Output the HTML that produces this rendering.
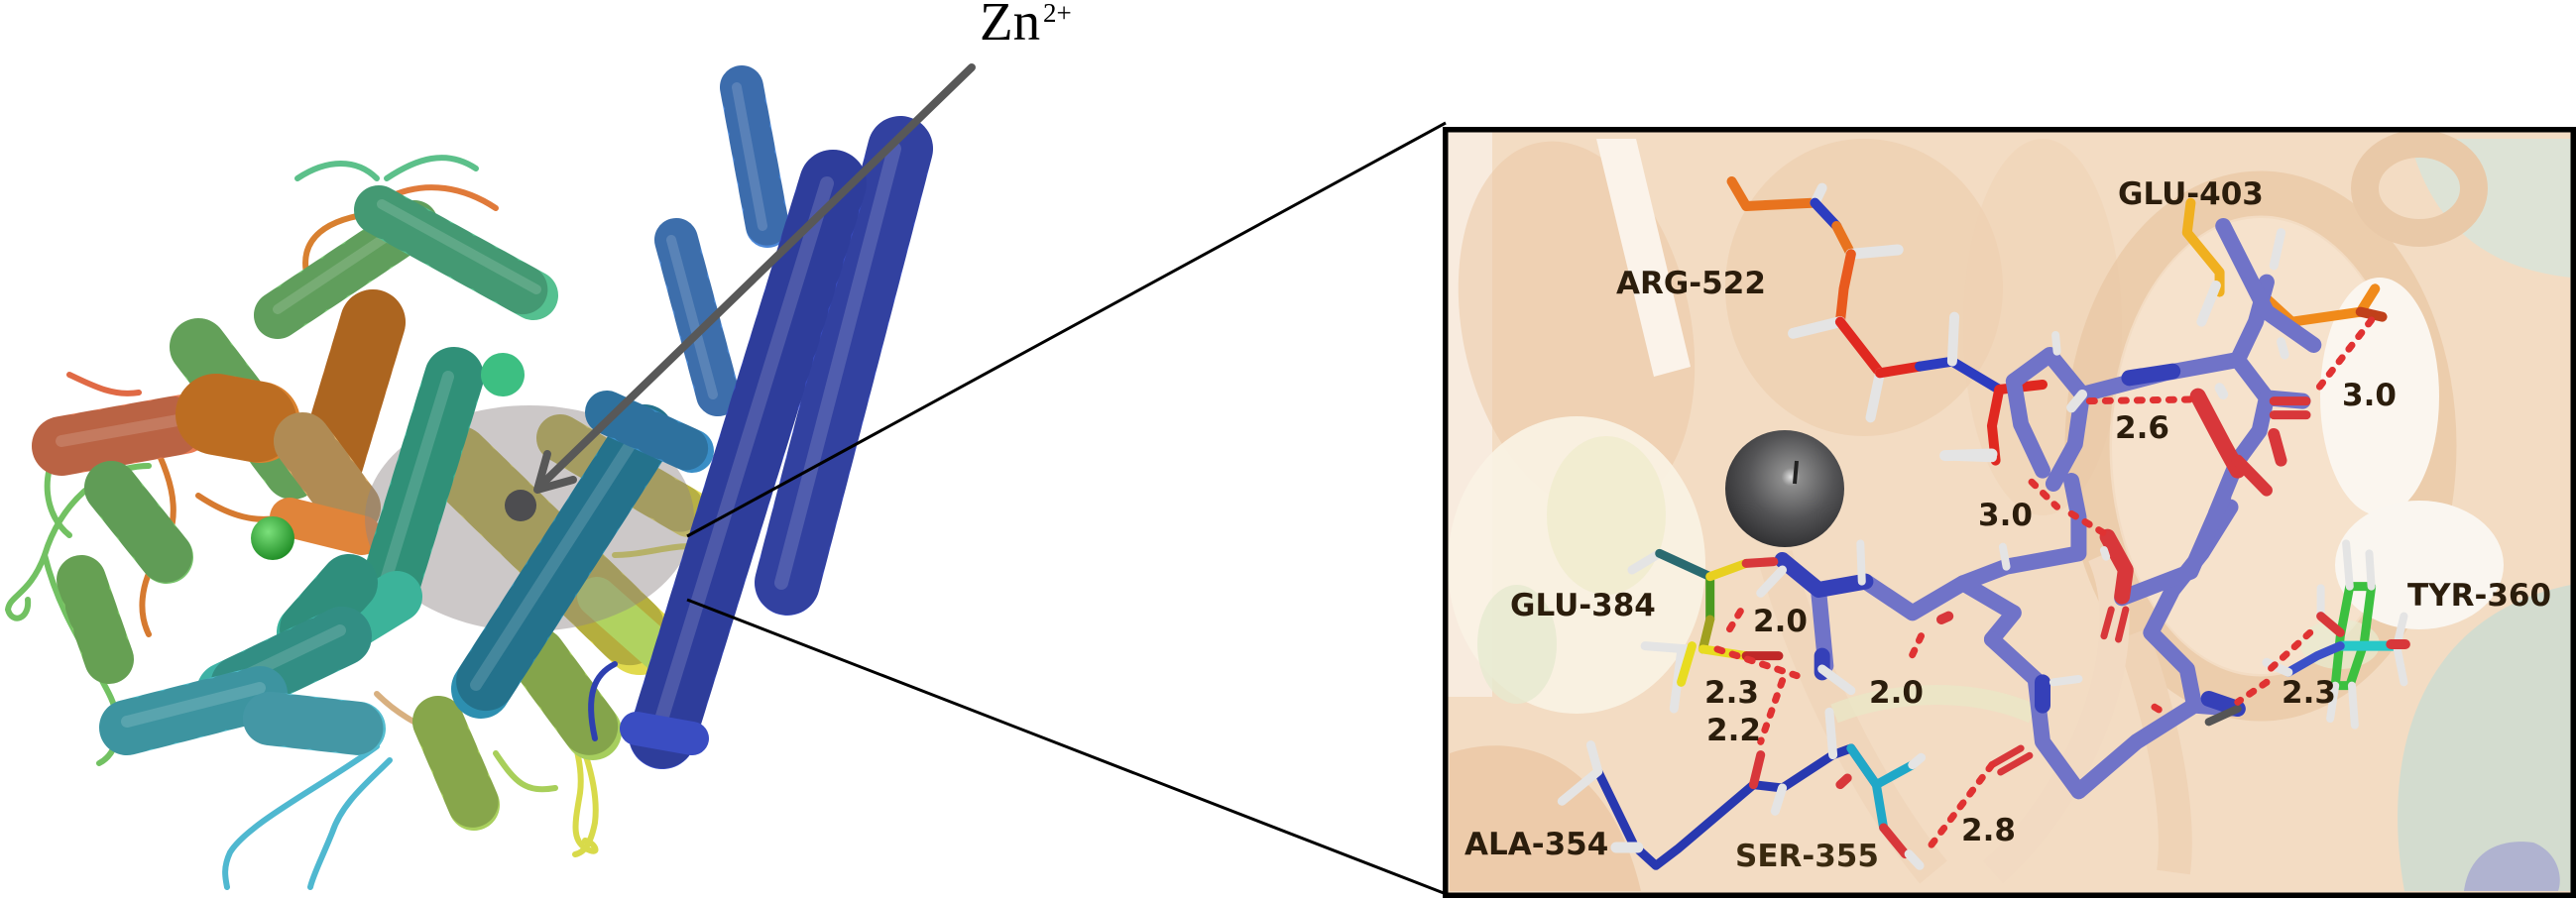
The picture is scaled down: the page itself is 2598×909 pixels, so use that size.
<!DOCTYPE html>
<html><head><meta charset="utf-8"><style>
html,body{margin:0;padding:0;background:#fff;width:2598px;height:909px;overflow:hidden;}
svg{display:block;}
.lp{fill:none;stroke-linecap:round;stroke-linejoin:round;}
.hx{fill:none;stroke-linecap:round;}
.hd{fill:none;stroke:#000;stroke-opacity:.2;stroke-dasharray:10 16;}
.hl{fill:none;stroke:#fff;stroke-opacity:.15;}
.st{fill:none;stroke-linecap:round;stroke-linejoin:round;}
.lb{font-family:"DejaVu Sans","Liberation Sans",sans-serif;font-weight:bold;font-size:31px;fill:#2b1d0c;}
</style></head><body>
<svg width="2598" height="909" viewBox="0 0 2598 909" xmlns="http://www.w3.org/2000/svg" overflow="hidden">
<defs>
<clipPath id="bx"><rect x="1460" y="133" width="1133" height="768"/></clipPath>
<clipPath id="pg"><rect x="0" y="0" width="2598" height="909"/></clipPath>
<radialGradient id="zn" cx="0.55" cy="0.4" r="0.65"><stop offset="0" stop-color="#e0e0e0"/><stop offset="0.12" stop-color="#8c8c8c"/><stop offset="0.55" stop-color="#545456"/><stop offset="1" stop-color="#2c2c2e"/></radialGradient>
<radialGradient id="gs" cx="0.4" cy="0.35" r="0.7"><stop offset="0" stop-color="#7be07b"/><stop offset="1" stop-color="#1c8a22"/></radialGradient>
</defs>
<g clip-path="url(#pg)">
<!-- ===== LEFT PROTEIN ===== -->
<g class="lp" stroke-width="6">
<path d="M150,470 C100,470 60,510 45,560 C30,600 10,600 8,615 C12,630 30,625 28,605" stroke="#72c162"/>
<path d="M45,560 C60,620 90,660 110,700 C125,730 120,760 100,770" stroke="#72c162"/>
<path d="M60,450 C40,480 45,520 70,540" stroke="#72c162"/>
<path d="M140,420 C170,470 190,520 160,560 C140,590 140,620 150,640" stroke="#d67a30"/>
<path d="M200,500 C230,520 260,530 290,520" stroke="#d67a30"/>
<path d="M310,280 C300,240 330,220 380,215 C420,212 440,230 430,260" stroke="#d88030"/>
<path d="M70,378 C95,390 115,400 140,396" stroke="#e06a45"/>
<path d="M380,753 C330,790 250,830 232,860 C225,875 227,885 229,895" stroke="#4fb8d0"/>
<path d="M393,767 C370,790 345,810 335,840 C325,865 316,882 313,895" stroke="#4fb8d0"/>
<path d="M545,670 C570,720 590,760 585,800 C580,830 575,850 595,858 C605,862 600,850 590,848" stroke="#d8da4a"/>
<path d="M560,690 C585,740 605,790 600,830 C596,850 590,860 580,862" stroke="#d8da4a"/>
<path d="M620,560 C660,560 700,540 720,560" stroke="#d8d650"/>
<path d="M300,180 C330,160 360,160 380,180" stroke="#5cc08a"/>
<path d="M390,180 C420,160 450,150 480,170" stroke="#5cc08a"/>
<path d="M390,200 C430,180 470,190 500,210" stroke="#e07a3a"/>
<path d="M500,760 C520,790 530,800 560,795" stroke="#a8cf5a"/>
<path d="M380,700 C400,720 420,730 440,740" stroke="#d8b080"/>
</g>

<g class="hx">
<path d="M62,450 L185,428" stroke="#e97c55" stroke-width="60"/><path class="hd" d="M62,450 L185,428" stroke-width="60"/><path class="hl" d="M62,445 L185,423" stroke-width="12"/>
<path d="M200,350 L295,475" stroke="#7cc870" stroke-width="58"/><path class="hd" d="M200,350 L295,475" stroke-width="58"/>
<path d="M280,318 L418,226" stroke="#78c674" stroke-width="48"/><path class="hd" d="M280,318 L418,226" stroke-width="48"/><path class="hl" d="M280,312 L418,220" stroke-width="10"/>
<path d="M218,418 L262,426" stroke="#d9822f" stroke-width="82"/><path d="M218,418 L262,426" stroke="#7a4008" stroke-opacity=".3" stroke-width="82" stroke-dasharray="7 10" fill="none"/>
<path d="M376,325 L334,465" stroke="#c9772c" stroke-width="66"/><path d="M376,325 L334,465" stroke="#6a3a08" stroke-opacity=".3" stroke-width="66" stroke-dasharray="9 14" fill="none"/>
<path d="M305,445 L355,512" stroke="#dcae6a" stroke-width="58"/><path class="hd" d="M305,445 L355,512" stroke-width="58"/>
<path d="M292,522 L365,540" stroke="#e0843a" stroke-width="40"/>
<path d="M112,492 L168,562" stroke="#78c46c" stroke-width="54"/><path class="hd" d="M112,492 L168,562" stroke-width="54"/>
<path d="M82,585 L110,665" stroke="#80c868" stroke-width="50"/><path class="hd" d="M82,585 L110,665" stroke-width="50"/>
<path d="M382,212 L538,298" stroke="#55c090" stroke-width="50"/><path class="hd" d="M382,212 L538,298" stroke-width="50"/><path class="hl" d="M385,206 L541,292" stroke-width="10"/>
<path d="M460,465 L645,645" stroke="#e1da4e" stroke-width="72"/><path class="hd" d="M460,465 L645,645" stroke-width="72"/>
<path d="M565,442 L695,518" stroke="#e5dd55" stroke-width="48"/><path class="hd" d="M565,442 L695,518" stroke-width="48"/>
<path d="M442,728 L478,812" stroke="#a9d05e" stroke-width="52"/><path class="hd" d="M442,728 L478,812" stroke-width="52"/>
<path d="M542,662 L598,738" stroke="#a6ce5e" stroke-width="58"/><path class="hd" d="M542,662 L598,738" stroke-width="58"/>
<path d="M602,602 L688,678" stroke="#b0d260" stroke-width="40"/>
</g>

<!-- translucent sphere -->
<ellipse cx="534" cy="523" rx="166" ry="114" fill="#8f8686" fill-opacity=".45"/>

<g class="hx">
<path d="M458,380 L392,595" stroke="#3db597" stroke-width="60"/><path class="hd" d="M458,380 L392,595" stroke-width="60"/><path class="hl" d="M452,380 L386,595" stroke-width="12"/>
<path d="M400,602 L325,648" stroke="#3cb39a" stroke-width="52"/>
<path d="M352,588 L308,638" stroke="#3bb29c" stroke-width="58"/><path class="hd" d="M352,588 L308,638" stroke-width="58"/>
<path d="M345,642 L228,698" stroke="#3fb2a6" stroke-width="60"/><path class="hd" d="M345,642 L228,698" stroke-width="60"/><path class="hl" d="M343,636 L226,692" stroke-width="12"/>
<path d="M128,734 L262,700" stroke="#4dbac8" stroke-width="56"/><path class="hd" d="M128,734 L262,700" stroke-width="56"/><path class="hl" d="M128,728 L262,694" stroke-width="12"/>
<path d="M272,725 L362,735" stroke="#55bdcf" stroke-width="54"/><path class="hd" d="M272,725 L362,735" stroke-width="54"/>
<path d="M650,438 L485,695" stroke="#2d8fb0" stroke-width="60"/><path class="hd" d="M650,438 L485,695" stroke-width="60"/><path class="hl" d="M645,434 L480,691" stroke-width="12"/>
<path d="M612,416 L698,455" stroke="#3a8ec6" stroke-width="44"/><path class="hd" d="M612,416 L698,455" stroke-width="44"/>
<path d="M748,88 L774,228" stroke="#4c88d8" stroke-width="44"/><path class="hd" d="M748,88 L774,228" stroke-width="44"/><path class="hl" d="M743,88 L769,228" stroke-width="10"/>
<path d="M682,242 L724,398" stroke="#4d8ad6" stroke-width="44"/><path class="hd" d="M682,242 L724,398" stroke-width="44"/><path class="hl" d="M677,242 L719,398" stroke-width="10"/>
<path d="M908,150 L794,588" stroke="#3f52c8" stroke-width="66"/><path class="hd" d="M908,150 L794,588" stroke-width="66"/><path class="hl" d="M902,150 L788,588" stroke-width="14"/>
<path d="M840,185 L668,742" stroke="#3a4dc2" stroke-width="68"/><path class="hd" d="M840,185 L668,742" stroke-width="68"/><path class="hl" d="M834,185 L662,742" stroke-width="14"/>
<path d="M642,735 L698,745" stroke="#3a4dc2" stroke-width="34"/>
</g>
<path d="M600,745 C590,700 600,680 620,670" class="lp" stroke="#2e40b0" stroke-width="6"/>

<!-- spheres / arrow -->
<circle cx="507" cy="378" r="22" fill="#3dbf82"/>
<circle cx="275" cy="543" r="22" fill="url(#gs)"/>
<line x1="980" y1="68" x2="545" y2="490" stroke="#585858" stroke-width="8" stroke-linecap="round"/>
<polyline points="552,458 542,494 578,484" fill="none" stroke="#585858" stroke-width="8" stroke-linecap="round" stroke-linejoin="round"/>
<circle cx="525" cy="510" r="16" fill="#4d4d50"/>

<!-- Zn label -->
<text x="988" y="40" font-family="'Liberation Serif',serif" font-size="55" fill="#000">Zn</text>
<text x="1052" y="22" font-family="'Liberation Serif',serif" font-size="27" fill="#000">2+</text>

<!-- connector lines -->
<line x1="1458" y1="124" x2="693" y2="541" stroke="#000" stroke-width="3"/>
<line x1="1456" y1="901" x2="693" y2="605" stroke="#000" stroke-width="3"/>

<!-- ===== ZOOM BOX ===== -->
<g clip-path="url(#bx)">
<rect x="1460" y="133" width="1133" height="768" fill="#f3dcc3"/>
<rect x="1460" y="133" width="45" height="570" fill="#f8ebde"/>
<ellipse cx="1590" cy="330" rx="115" ry="190" fill="#ebc8a6" opacity=".55" transform="rotate(-12 1590 330)"/>
<polygon points="1610,140 1650,140 1705,370 1668,380" fill="#fbf3ea"/>
<ellipse cx="1880" cy="290" rx="140" ry="150" fill="#ebc9a7" opacity=".5"/>
<ellipse cx="2060" cy="330" rx="80" ry="190" fill="#f0d2b4" opacity=".5"/>
<ellipse cx="2280" cy="450" rx="150" ry="230" fill="#f6e4d0" opacity=".7"/>
<ellipse cx="2280" cy="450" rx="175" ry="255" fill="none" stroke="#e8c6a3" stroke-width="45" opacity=".7"/>
<path d="M2430,140 C2450,220 2500,270 2593,280 L2593,140 Z" fill="#dde3d6"/>
<ellipse cx="2440" cy="190" rx="55" ry="45" fill="none" stroke="#e9c9a8" stroke-width="28"/>
<ellipse cx="1590" cy="570" rx="130" ry="150" fill="#faf3e4" opacity=".9"/>
<ellipse cx="1620" cy="520" rx="60" ry="80" fill="#efebca" opacity=".7"/>
<ellipse cx="1530" cy="650" rx="40" ry="60" fill="#e6ead0" opacity=".8"/>
<path d="M1462,760 C1520,740 1620,750 1655,899 L1462,899 Z" fill="#ebc8a6" opacity=".85"/>
<path d="M1790,560 C1830,700 1900,820 1950,880" fill="none" stroke="#f0d6bb" stroke-width="36"/>
<path d="M2150,640 C2180,720 2200,820 2192,880" fill="none" stroke="#efd3b6" stroke-width="34"/>
<path d="M2010,880 C2100,800 2160,650 2120,560" fill="none" stroke="#f2dac2" stroke-width="30"/>
<path d="M1850,720 C1900,700 1980,690 2050,720" fill="none" stroke="#e8e8c8" stroke-width="20" opacity=".7"/>
<ellipse cx="2400" cy="400" rx="60" ry="120" fill="#fbf6ef"/>
<ellipse cx="2440" cy="570" rx="85" ry="65" fill="#faf6f0"/>
<path d="M2425,899 C2400,760 2440,620 2593,590 L2593,899 Z" fill="#d3dccf"/>
<path d="M2485,899 C2490,860 2520,845 2555,850 C2580,860 2585,885 2580,899 Z" fill="#a9abd0" opacity=".85"/>
<ellipse cx="2360" cy="650" rx="40" ry="25" fill="#e8ecd2" opacity=".7"/>

<!-- Zn sphere -->
<ellipse cx="1800" cy="493" rx="60" ry="59" fill="url(#zn)"/>
<line x1="1812" y1="465" x2="1810" y2="488" stroke="#222" stroke-width="4"/>

<!-- sticks, zoom9 coordinate frame -->
<g transform="translate(1455 128) scale(0.7289 0.3333)">
<g class="st" stroke-width="10">
<path d="M400,165 L420,240 L515,230" stroke="#e8731e" vector-effect="non-scaling-stroke"/>
<path d="M515,230 L525,185" stroke="#e4e4e4" vector-effect="non-scaling-stroke"/>
<path d="M515,230 L545,300" stroke="#2c3cc0" vector-effect="non-scaling-stroke"/>
<path d="M545,300 L565,385" stroke="#e8731e" vector-effect="non-scaling-stroke"/>
<path d="M565,385 L630,372" stroke="#e4e4e4" stroke-width="11" vector-effect="non-scaling-stroke"/>
<path d="M565,385 L555,490 L550,590" stroke="#e85a1e" vector-effect="non-scaling-stroke"/>
<path d="M550,590 L485,625" stroke="#e4e4e4" stroke-width="11" vector-effect="non-scaling-stroke"/>
<path d="M550,590 L605,745" stroke="#e02820" vector-effect="non-scaling-stroke"/>
<path d="M605,745 L592,880" stroke="#e4e4e4" vector-effect="non-scaling-stroke"/>
<path d="M605,745 L660,725" stroke="#e02820" vector-effect="non-scaling-stroke"/>
<path d="M660,725 L705,710 L770,795" stroke="#2c3cc0" vector-effect="non-scaling-stroke"/>
<path d="M705,710 L708,575" stroke="#e4e4e4" vector-effect="non-scaling-stroke"/>
<path d="M770,795 L830,780" stroke="#e02820" vector-effect="non-scaling-stroke"/>
<path d="M770,795 L760,905 L765,1010" stroke="#e02820" vector-effect="non-scaling-stroke"/>
<path d="M760,990 L695,995" stroke="#e4e4e4" stroke-width="11" vector-effect="non-scaling-stroke"/>
<path d="M1035,230 L1030,320 L1075,440 L1075,500" stroke="#f0b020" vector-effect="non-scaling-stroke"/>
<path d="M1120,480 L1175,590 L1270,560 L1290,490" stroke="#f08a1a" vector-effect="non-scaling-stroke"/>
<path d="M1270,560 L1300,575" stroke="#c0401a" vector-effect="non-scaling-stroke"/>
<path d="M1070,480 L1050,590" stroke="#e4e4e4" vector-effect="non-scaling-stroke"/>
</g>
<g class="st" stroke-width="16" stroke="#7073c8">
<path d="M790,770 L840,690 L885,810 L875,960 L845,1080 M790,770 L800,900 L830,1040" vector-effect="non-scaling-stroke"/>
<path d="M885,810 L1000,745 L1100,705" vector-effect="non-scaling-stroke"/>
<path d="M1100,705 L1125,590 L1140,470" vector-effect="non-scaling-stroke"/>
<path d="M1080,300 L1140,560 L1205,660" vector-effect="non-scaling-stroke"/>
<path d="M1100,705 L1140,820 L1130,920 L1100,1010 L1070,1170" vector-effect="non-scaling-stroke"/>
<path d="M1140,820 L1190,830" vector-effect="non-scaling-stroke"/>
</g>
<g class="st">
<path d="M950,760 L1010,740" stroke="#3540b8" stroke-width="16" vector-effect="non-scaling-stroke"/>
<path d="M1150,830 L1195,830 M1150,872 L1195,872" stroke="#d8373a" stroke-width="9" vector-effect="non-scaling-stroke"/>
<path d="M1045,815 L1080,960 L1100,1040" stroke="#d8373a" stroke-width="16" vector-effect="non-scaling-stroke"/>
<path d="M1150,930 L1160,1010" stroke="#d8373a" stroke-width="12" vector-effect="non-scaling-stroke"/>
<path d="M1100,1010 L1140,1100" stroke="#d8373a" stroke-width="12" vector-effect="non-scaling-stroke"/>
<path d="M1075,790 L1080,810" stroke="#e4e4e4" stroke-width="10" vector-effect="non-scaling-stroke"/>
<path d="M1160,320 L1150,420" stroke="#e4e4e4" stroke-width="9" vector-effect="non-scaling-stroke"/>
<path d="M1165,690 L1160,650" stroke="#e4e4e4" stroke-width="9" vector-effect="non-scaling-stroke"/>
<path d="M885,810 L870,850" stroke="#e4e4e4" stroke-width="10" vector-effect="non-scaling-stroke"/>
<path d="M850,680 L848,630" stroke="#e4e4e4" stroke-width="8" vector-effect="non-scaling-stroke"/>
<path d="M760,1000 L700,995" stroke="#e4e4e4" stroke-width="10" vector-effect="non-scaling-stroke"/>
</g>
<g class="st" stroke="#e03232" stroke-width="7" stroke-dasharray="5 11">
<path d="M895,830 L1040,825" vector-effect="non-scaling-stroke"/>
<path d="M1285,585 L1205,810" vector-effect="non-scaling-stroke"/>
<path d="M815,1075 L850,1150" vector-effect="non-scaling-stroke"/>
</g>
</g>

<!-- sticks, zoom10 coordinate frame -->
<g transform="translate(1455 515) scale(0.7289 0.3333)">
<g class="st" stroke-width="16" stroke="#7073c8">
<path d="M520,240 L530,470" vector-effect="non-scaling-stroke"/>
<path d="M585,215 L650,310 L720,220 L790,310 L760,390" vector-effect="non-scaling-stroke"/>
<path d="M720,220 L780,170 L880,130 L880,20 L870,-90" vector-effect="non-scaling-stroke"/>
<path d="M760,390 L820,510 L830,700 L880,850 L960,700 L1040,590 L1100,600" vector-effect="non-scaling-stroke"/>
<path d="M1040,590 L1030,480 L980,370 L1010,240 L1050,130 L1090,-10" vector-effect="non-scaling-stroke"/>
<path d="M940,265 L1035,185 L1060,60 L1080,-40" vector-effect="non-scaling-stroke"/>
</g>
<g class="st">
<path d="M470,150 L520,240 L585,215" stroke="#3540b8" stroke-width="16" vector-effect="non-scaling-stroke"/>
<path d="M525,440 L525,490 M830,520 L830,590 M1060,570 L1100,600" stroke="#3540b8" stroke-width="16" vector-effect="non-scaling-stroke"/>
<path d="M525,480 L565,545" stroke="#e4e4e4" stroke-width="9" vector-effect="non-scaling-stroke"/>
<path d="M470,180 L440,250" stroke="#e4e4e4" stroke-width="9" vector-effect="non-scaling-stroke"/>
<path d="M578,100 L580,215" stroke="#e4e4e4" stroke-width="8" vector-effect="non-scaling-stroke"/>
<path d="M780,170 L775,110" stroke="#e4e4e4" stroke-width="8" vector-effect="non-scaling-stroke"/>
<path d="M845,520 L880,510" stroke="#e4e4e4" stroke-width="8" vector-effect="non-scaling-stroke"/>
<path d="M1100,600 L1060,640" stroke="#555" stroke-width="8" vector-effect="non-scaling-stroke"/>
<path d="M920,80 L945,180 L940,260" stroke="#d8373a" stroke-width="16" vector-effect="non-scaling-stroke"/>
<path d="M915,120 L918,140" stroke="#e4e4e4" stroke-width="8" vector-effect="non-scaling-stroke"/>
<path d="M925,300 L915,380 M945,300 L935,390" stroke="#d8373a" stroke-width="7" vector-effect="non-scaling-stroke"/>
<path d="M800,720 L760,770 M812,742 L772,792" stroke="#d8373a" stroke-width="7" vector-effect="non-scaling-stroke"/>
<path d="M700,320 L690,330" stroke="#d8373a" stroke-width="10" vector-effect="non-scaling-stroke"/>
<!-- ALA/SER -->
<path d="M215,790 L265,1015 L295,1075 L325,1025 L430,830 L470,840 L540,740 L565,720 L600,830" stroke="#2838b0" stroke-width="9" vector-effect="non-scaling-stroke"/>
<path d="M215,790 L205,710 M215,790 L165,880" stroke="#e4e4e4" stroke-width="9" vector-effect="non-scaling-stroke"/>
<path d="M270,1020 L240,1020" stroke="#e4e4e4" stroke-width="11" vector-effect="non-scaling-stroke"/>
<path d="M430,830 L440,740" stroke="#d8373a" stroke-width="9" vector-effect="non-scaling-stroke"/>
<path d="M470,840 L460,910 M540,740 L535,610" stroke="#e4e4e4" stroke-width="9" vector-effect="non-scaling-stroke"/>
<path d="M565,720 L600,830 L650,770" stroke="#20a8c8" stroke-width="9" vector-effect="non-scaling-stroke"/>
<path d="M650,770 L662,748" stroke="#e4e4e4" stroke-width="9" vector-effect="non-scaling-stroke"/>
<path d="M600,830 L610,960" stroke="#20a8c8" stroke-width="9" vector-effect="non-scaling-stroke"/>
<path d="M610,960 L640,1040" stroke="#d8373a" stroke-width="9" vector-effect="non-scaling-stroke"/>
<path d="M645,1040 L660,1075" stroke="#e4e4e4" stroke-width="9" vector-effect="non-scaling-stroke"/>
<path d="M560,810 L550,830" stroke="#d8373a" stroke-width="9" vector-effect="non-scaling-stroke"/>
<!-- GLU-384 -->
<path d="M300,130 L262,180" stroke="#e4e4e4" stroke-width="9" vector-effect="non-scaling-stroke"/>
<path d="M300,130 L370,200" stroke="#2a6a70" stroke-width="9" vector-effect="non-scaling-stroke"/>
<path d="M370,200 L370,330" stroke="#4a9a20" stroke-width="9" vector-effect="non-scaling-stroke"/>
<path d="M370,200 L420,160" stroke="#e8d020" stroke-width="9" vector-effect="non-scaling-stroke"/>
<path d="M420,160 L458,155" stroke="#d8373a" stroke-width="9" vector-effect="non-scaling-stroke"/>
<path d="M370,330 L360,420" stroke="#a0a020" stroke-width="9" vector-effect="non-scaling-stroke"/>
<path d="M360,420 L420,440" stroke="#e8dc20" stroke-width="9" vector-effect="non-scaling-stroke"/>
<path d="M420,440 L465,440" stroke="#c02828" stroke-width="9" vector-effect="non-scaling-stroke"/>
<path d="M340,420 L280,410 M330,430 L320,600" stroke="#e4e4e4" stroke-width="9" vector-effect="non-scaling-stroke"/>
<path d="M345,410 L330,520" stroke="#e8dc20" stroke-width="9" vector-effect="non-scaling-stroke"/>
<!-- TYR-360 -->
<path d="M1255,230 L1285,230 L1275,400 L1255,530 L1235,530 L1242,380 Z" stroke="#3cc040" stroke-width="9" vector-effect="non-scaling-stroke"/>
<path d="M1250,100 L1255,230 M1282,130 L1285,230 M1258,530 L1262,650 M1235,530 L1228,630" stroke="#e4e4e4" stroke-width="8" vector-effect="non-scaling-stroke"/>
<path d="M1245,410 L1315,410" stroke="#28c8c8" stroke-width="10" vector-effect="non-scaling-stroke"/>
<path d="M1330,320 L1320,410 L1330,520" stroke="#e4e4e4" stroke-width="8" vector-effect="non-scaling-stroke"/>
<path d="M1312,405 L1332,405" stroke="#d8373a" stroke-width="10" vector-effect="non-scaling-stroke"/>
<path d="M1215,235 L1215,320" stroke="#e4e4e4" stroke-width="8" vector-effect="non-scaling-stroke"/>
<path d="M1215,320 L1242,370" stroke="#d8373a" stroke-width="9" vector-effect="non-scaling-stroke"/>
<path d="M1242,410 L1210,440 L1170,490" stroke="#3c50c8" stroke-width="9" vector-effect="non-scaling-stroke"/>
<path d="M1170,490 L1140,460" stroke="#e4e4e4" stroke-width="9" vector-effect="non-scaling-stroke"/>
</g>
<g class="st" stroke="#e03232" stroke-width="7" stroke-dasharray="5 11">
<path d="M870,10 L920,75" vector-effect="non-scaling-stroke"/>
<path d="M412,305 L390,385" vector-effect="non-scaling-stroke"/>
<path d="M380,420 L490,500" vector-effect="non-scaling-stroke"/>
<path d="M470,515 L440,700" vector-effect="non-scaling-stroke"/>
<path d="M662,380 L645,460" vector-effect="non-scaling-stroke"/>
<path d="M760,770 L670,1030" vector-effect="non-scaling-stroke"/>
<path d="M1200,370 L1140,490" vector-effect="non-scaling-stroke"/>
<path d="M1140,520 L1100,580" vector-effect="non-scaling-stroke"/>
<path d="M985,595 L1000,615" vector-effect="non-scaling-stroke"/>
</g>
</g>

<!-- labels -->
<text class="lb" x="1630" y="296">ARG-522</text>
<text class="lb" x="2136" y="206">GLU-403</text>
<text class="lb" x="1523" y="621">GLU-384</text>
<text class="lb" x="2428" y="611">TYR-360</text>
<text class="lb" x="1477" y="862">ALA-354</text>
<text class="lb" x="1750" y="874" style="fill:#3a2a10">SER-355</text>
<text class="lb" x="1768" y="637">2.0</text>
<text class="lb" x="1719" y="709">2.3</text>
<text class="lb" x="1885" y="709">2.0</text>
<text class="lb" x="1721" y="747">2.2</text>
<text class="lb" x="1978" y="848">2.8</text>
<text class="lb" x="2301" y="709">2.3</text>
<text class="lb" x="1995" y="530">3.0</text>
<text class="lb" x="2133" y="442">2.6</text>
<text class="lb" x="2362" y="409">3.0</text>
</g>
<rect x="1457.75" y="130.75" width="1137.5" height="772.5" fill="none" stroke="#000" stroke-width="5.5"/>
</g>
</svg>
</body></html>
